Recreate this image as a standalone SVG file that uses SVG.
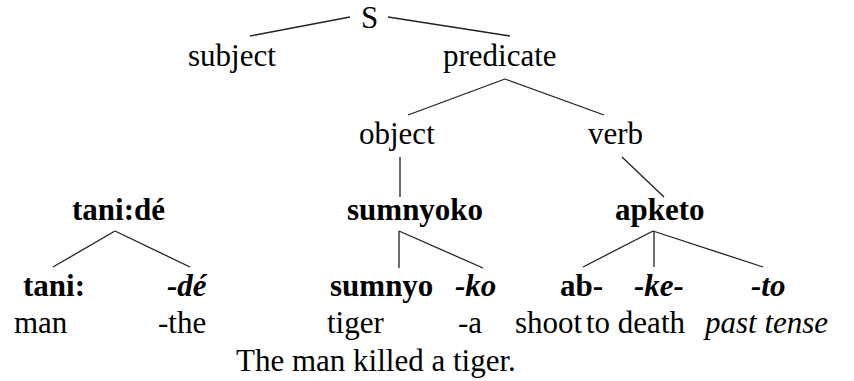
<svg xmlns="http://www.w3.org/2000/svg" width="854" height="381" viewBox="0 0 854 381">
<rect width="854" height="381" fill="#fff"/>
<g id="connectors" stroke="#231f20" stroke-width="1.3" fill="none">
<line x1="350" y1="17" x2="250" y2="36"/>
<line x1="388" y1="17" x2="510" y2="36"/>
<line x1="505" y1="79" x2="408" y2="115"/>
<line x1="505" y1="79" x2="604" y2="115"/>
<line x1="400" y1="157" x2="400" y2="197"/>
<line x1="622" y1="157" x2="664" y2="197"/>
<line x1="115" y1="231" x2="53" y2="267"/>
<line x1="115" y1="231" x2="190" y2="267"/>
<line x1="399" y1="231" x2="399" y2="268"/>
<line x1="399" y1="231" x2="483" y2="268"/>
<line x1="653" y1="231" x2="583" y2="267"/>
<line x1="654" y1="231" x2="654" y2="267"/>
<line x1="653" y1="231" x2="763" y2="267"/>
</g>
<g id="S"><text font-family="Liberation Serif" font-size="31" x="361" y="28">S</text></g>
<g id="subject"><text font-family="Liberation Serif" font-size="31" x="188" y="66">subject</text></g>
<g id="predicate"><text font-family="Liberation Serif" font-size="31" x="443" y="66">predicate</text></g>
<g id="object"><text font-family="Liberation Serif" font-size="31" x="359" y="144">object</text></g>
<g id="verb"><text font-family="Liberation Serif" font-size="31" x="588" y="144">verb</text></g>
<g id="tanide"><text font-family="Liberation Serif" font-size="31" font-weight="bold" x="72" y="220">tani:dé</text></g>
<g id="sumnyoko"><text font-family="Liberation Serif" font-size="31" font-weight="bold" x="347" y="220">sumnyoko</text></g>
<g id="apketo"><text font-family="Liberation Serif" font-size="31" font-weight="bold" x="615" y="220">apketo</text></g>
<g id="tani"><text font-family="Liberation Serif" font-size="31" font-weight="bold" x="23" y="296">tani:</text><text font-family="Liberation Serif" font-size="31" x="14" y="333">man</text></g>
<g id="de"><text font-family="Liberation Serif" font-size="31" font-weight="bold" font-style="italic" x="167" y="296">-dé</text><text font-family="Liberation Serif" font-size="31" x="158" y="333">-the</text></g>
<g id="sumnyo"><text font-family="Liberation Serif" font-size="31" font-weight="bold" x="330" y="296">sumnyo</text><text font-family="Liberation Serif" font-size="31" x="327" y="333">tiger</text></g>
<g id="ko"><text font-family="Liberation Serif" font-size="31" font-weight="bold" font-style="italic" x="455" y="296">-ko</text><text font-family="Liberation Serif" font-size="31" x="458" y="333">-a</text></g>
<g id="ab"><text font-family="Liberation Serif" font-size="31" font-weight="bold" x="560" y="296">ab-</text><text font-family="Liberation Serif" font-size="31" x="515" y="333">shoot</text></g>
<g id="ke"><text font-family="Liberation Serif" font-size="31" font-weight="bold" font-style="italic" x="634" y="296">-ke-</text><text font-family="Liberation Serif" font-size="31" x="586" y="333">to death</text></g>
<g id="to"><text font-family="Liberation Serif" font-size="31" font-weight="bold" font-style="italic" x="751" y="296">-to</text><text font-family="Liberation Serif" font-size="31" font-style="italic" x="705" y="333">past tense</text></g>
<g id="sentence"><text font-family="Liberation Serif" font-size="31" x="236" y="371">The man killed a tiger.</text></g>
</svg>
